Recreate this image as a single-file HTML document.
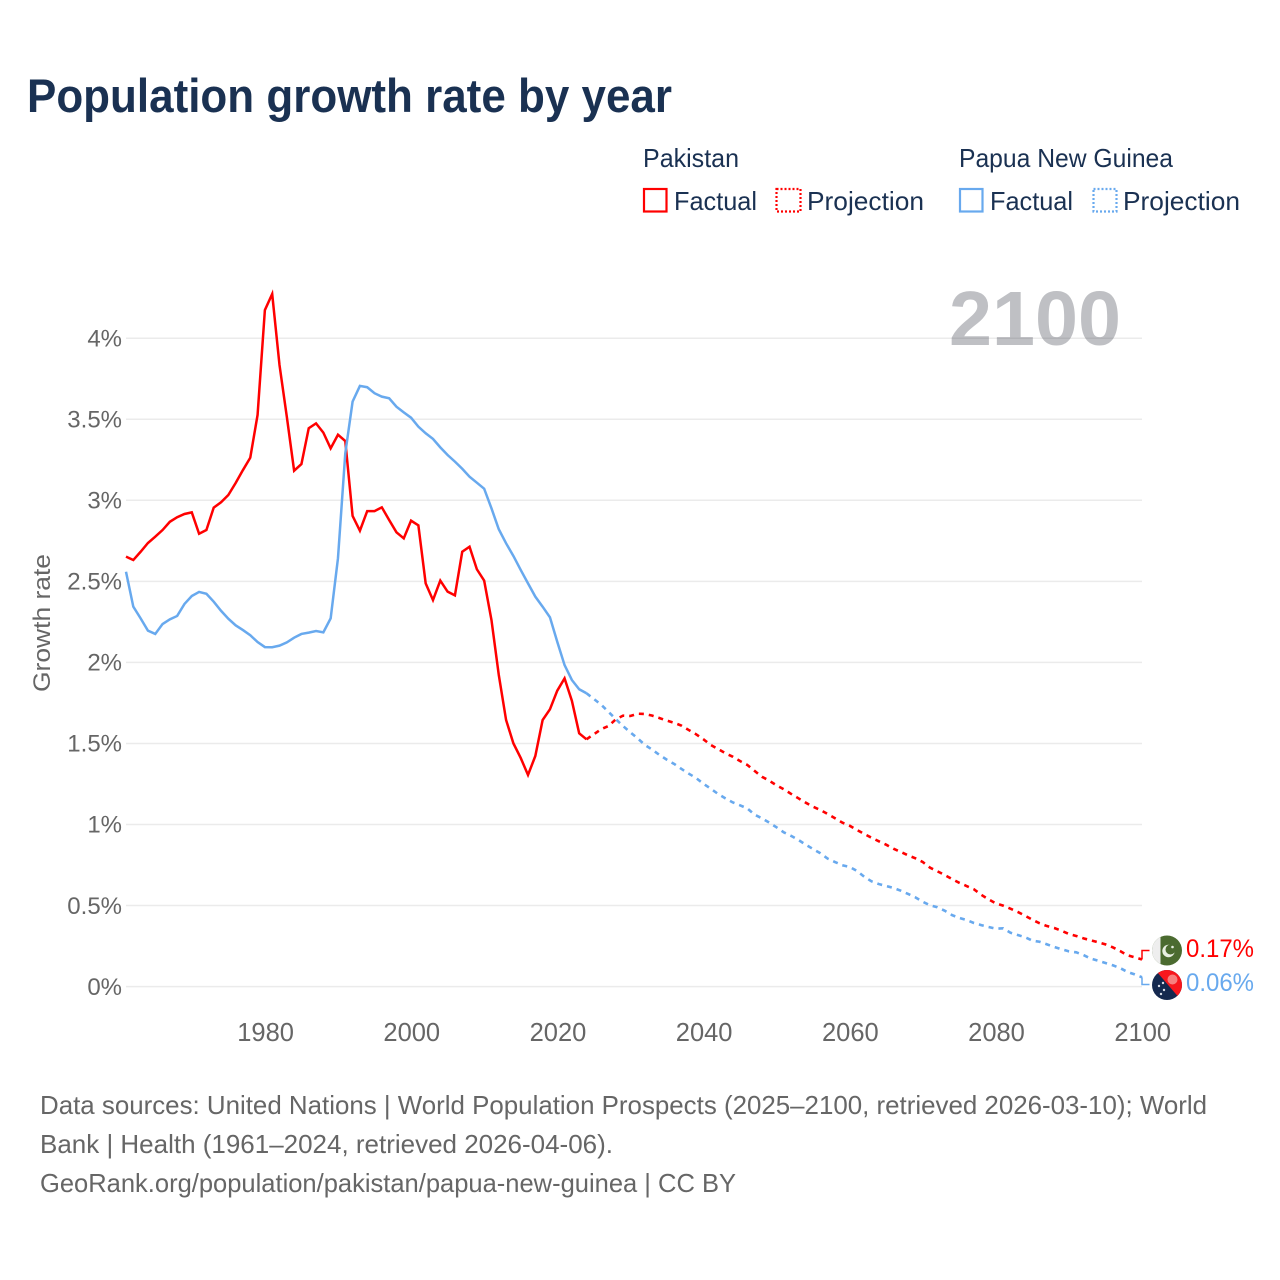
<!DOCTYPE html>
<html lang="en">
<head>
<meta charset="utf-8">
<title>Population growth rate by year</title>
<style>
  html, body { margin: 0; padding: 0; background: #fff; }
  svg { display: block; font-family: "Liberation Sans", sans-serif; }
  text { white-space: pre; }
</style>
</head>
<body>
<svg id="chart" width="1280" height="1280" viewBox="0 0 1280 1280" xmlns="http://www.w3.org/2000/svg">
  <defs>
    <clipPath id="flag-clip-pk"><circle cx="1167" cy="950.5" r="15"/></clipPath>
    <clipPath id="flag-clip-pg"><circle cx="1167" cy="985" r="15"/></clipPath>
  </defs>
  <rect x="0" y="0" width="1280" height="1280" fill="#fff"/>

  <text x="27" y="112" font-size="47" font-weight="700" fill="#1a3152" textLength="645" lengthAdjust="spacingAndGlyphs">Population growth rate by year</text>

  <g fill="#1a3152" font-size="26">
    <text x="643" y="167" textLength="96" lengthAdjust="spacingAndGlyphs">Pakistan</text>
    <text x="959" y="167" textLength="214" lengthAdjust="spacingAndGlyphs">Papua New Guinea</text>
    <rect x="644" y="189" width="22.5" height="22.5" fill="none" stroke="#ff0000" stroke-width="2.2"/>
    <text x="674" y="210" textLength="83" lengthAdjust="spacingAndGlyphs">Factual</text>
    <rect x="776.5" y="189" width="24" height="22.5" fill="none" stroke="#ff0000" stroke-width="2.2" stroke-dasharray="2 2"/>
    <text x="807" y="210" textLength="117" lengthAdjust="spacingAndGlyphs">Projection</text>
    <rect x="960" y="189" width="22.5" height="22.5" fill="none" stroke="#68a9ee" stroke-width="2.2"/>
    <text x="990" y="210" textLength="83" lengthAdjust="spacingAndGlyphs">Factual</text>
    <rect x="1093.5" y="189" width="23" height="22.5" fill="none" stroke="#68a9ee" stroke-width="2.2" stroke-dasharray="2 2"/>
    <text x="1123" y="210" textLength="117" lengthAdjust="spacingAndGlyphs">Projection</text>
  </g>

  <g id="grid-layer"></g>
  <g id="y-tick-layer"></g>
  <g id="x-tick-layer"></g>

  <text transform="translate(50 692) rotate(-90)" x="0" y="0" font-size="24" fill="#666" textLength="138" lengthAdjust="spacingAndGlyphs">Growth rate</text>

  <g id="series-layer"></g>

  <text x="949" y="345" font-size="77" font-weight="700" fill="#3c414b" fill-opacity="0.33" textLength="172" lengthAdjust="spacingAndGlyphs">2100</text>

  <g clip-path="url(#flag-clip-pk)">
    <rect x="1150" y="933" width="34" height="35" fill="#4b6b30"/>
    <rect x="1150" y="933" width="10.5" height="35" fill="#eeeeee"/>
    <circle cx="1168.5" cy="951" r="6.2" fill="#e8efe2"/>
    <circle cx="1170.5" cy="949.5" r="5" fill="#4b6b30"/>
    <circle cx="1172.5" cy="947" r="1.3" fill="#e8efe2"/>
  </g>
  <g clip-path="url(#flag-clip-pg)">
    <rect x="1150" y="968" width="34" height="35" fill="#15294f"/>
    <polygon points="1154,968.5 1184,968.5 1184,1003.5" fill="#f8171d"/>
    <ellipse cx="1172.5" cy="979.5" rx="5" ry="5" fill="#f7807e"/>
    <circle cx="1159" cy="986" r="1.2" fill="#d8dde8"/>
    <circle cx="1163" cy="983" r="1.2" fill="#d8dde8"/>
    <circle cx="1164" cy="990" r="1.2" fill="#d8dde8"/>
    <circle cx="1161" cy="994" r="1.2" fill="#d8dde8"/>
  </g>

  <g font-size="25">
    <text id="end-label-pk" x="1186" y="957" fill="#ff0000" textLength="68" lengthAdjust="spacingAndGlyphs"></text>
    <text id="end-label-pg" x="1186" y="991" fill="#68a9ee" textLength="68" lengthAdjust="spacingAndGlyphs"></text>
  </g>

  <g fill="#666" font-size="26">
    <text x="40" y="1114" textLength="1167" lengthAdjust="spacingAndGlyphs">Data sources: United Nations | World Population Prospects (2025–2100, retrieved 2026-03-10); World</text>
    <text x="40" y="1153" textLength="573" lengthAdjust="spacingAndGlyphs">Bank | Health (1961–2024, retrieved 2026-04-06).</text>
    <text x="40" y="1192" textLength="696" lengthAdjust="spacingAndGlyphs">GeoRank.org/population/pakistan/papua-new-guinea | CC BY</text>
  </g>
</svg>

<script>
// ---- chart data ----
const factualStartYear = 1961;
const projectionStartYear = 2025;
const xTickYears = [1980, 2000, 2020, 2040, 2060, 2080, 2100];
const yTickValues = [0, 0.5, 1, 1.5, 2, 2.5, 3, 3.5, 4];

const pakistanFactual = [
  2.655, 2.634, 2.685, 2.739, 2.778, 2.819, 2.870, 2.898, 2.918, 2.928,
  2.796, 2.819, 2.957, 2.990, 3.035, 3.109, 3.189, 3.265, 3.529, 4.176,
  4.275, 3.837, 3.518, 3.185, 3.226, 3.447, 3.477, 3.420, 3.323, 3.407,
  3.368, 2.906, 2.815, 2.936, 2.936, 2.959, 2.881, 2.805, 2.768, 2.877,
  2.848, 2.490, 2.387, 2.507, 2.439, 2.416, 2.685, 2.716, 2.577, 2.507,
  2.264, 1.925, 1.647, 1.503, 1.413, 1.308, 1.425, 1.647, 1.713, 1.828,
  1.904, 1.766, 1.565, 1.528
];
const pakistanProjection = [
  1.559, 1.590, 1.610, 1.651, 1.674, 1.672, 1.686, 1.684, 1.674, 1.659,
  1.643, 1.630, 1.612, 1.585, 1.559, 1.528, 1.493, 1.468, 1.442, 1.421,
  1.394, 1.370, 1.333, 1.297, 1.273, 1.244, 1.220, 1.191, 1.164, 1.137,
  1.112, 1.092, 1.067, 1.041, 1.014, 0.995, 0.969, 0.944, 0.921, 0.899,
  0.878, 0.853, 0.833, 0.812, 0.794, 0.771, 0.736, 0.714, 0.691, 0.666,
  0.643, 0.623, 0.603, 0.569, 0.541, 0.516, 0.502, 0.483, 0.463, 0.440,
  0.415, 0.393, 0.376, 0.364, 0.347, 0.327, 0.315, 0.300, 0.288, 0.276,
  0.263, 0.245, 0.222, 0.196, 0.183, 0.170
];
const pngFactual = [
  2.562, 2.346, 2.274, 2.198, 2.178, 2.239, 2.268, 2.289, 2.363, 2.412,
  2.437, 2.426, 2.377, 2.321, 2.272, 2.231, 2.202, 2.170, 2.128, 2.097,
  2.096, 2.106, 2.126, 2.155, 2.178, 2.186, 2.196, 2.188, 2.274, 2.645,
  3.292, 3.611, 3.708, 3.700, 3.663, 3.642, 3.632, 3.580, 3.545, 3.512,
  3.457, 3.416, 3.381, 3.329, 3.282, 3.241, 3.197, 3.148, 3.111, 3.074,
  2.953, 2.824, 2.737, 2.659, 2.573, 2.490, 2.408, 2.346, 2.281, 2.130,
  1.986, 1.894, 1.837, 1.812
];
const pngProjection = [
  1.777, 1.742, 1.698, 1.653, 1.610, 1.571, 1.534, 1.493, 1.464, 1.431,
  1.402, 1.376, 1.345, 1.316, 1.289, 1.254, 1.223, 1.191, 1.164, 1.139,
  1.121, 1.102, 1.063, 1.041, 1.014, 0.985, 0.954, 0.932, 0.907, 0.878,
  0.851, 0.825, 0.792, 0.771, 0.751, 0.741, 0.716, 0.680, 0.652, 0.635,
  0.623, 0.611, 0.594, 0.574, 0.553, 0.526, 0.504, 0.492, 0.471, 0.444,
  0.426, 0.413, 0.395, 0.382, 0.370, 0.360, 0.362, 0.335, 0.321, 0.307,
  0.286, 0.279, 0.263, 0.247, 0.233, 0.220, 0.214, 0.197, 0.175, 0.162,
  0.148, 0.134, 0.117, 0.093, 0.078, 0.060
];

// ---- axis functions ----
function xScale(year) {
  return 126 + (year - 1961) * (1142 - 126) / (2100 - 1961);
}
function yScale(value) {
  return 987 - value * 162.1;
}

const SVG_NS = 'http://www.w3.org/2000/svg';
function make(tag, parentId) {
  const el = document.createElementNS(SVG_NS, tag);
  document.getElementById(parentId).appendChild(el);
  return el;
}
function pointsFor(values, startYear) {
  return values.map(function (v, i) {
    return xScale(startYear + i).toFixed(2) + ',' + yScale(v).toFixed(2);
  });
}

// gridlines and y ticks
yTickValues.forEach(function (v) {
  const line = make('line', 'grid-layer');
  
  
  line.setAttribute('x1', xScale(1961));
  line.setAttribute('x2', xScale(2100));
  line.setAttribute('y1', yScale(v) - 0.4);
  line.setAttribute('y2', yScale(v) - 0.4);
  line.setAttribute('stroke', '#ebebeb');
  line.setAttribute('stroke-width', '1.5');

  const label = make('text', 'y-tick-layer');
  
  
  label.setAttribute('x', 122);
  label.setAttribute('y', yScale(v) + 7.8);
  label.setAttribute('text-anchor', 'end');
  label.setAttribute('font-size', '24');
  label.setAttribute('fill', '#666');
  label.textContent = v + '%';
});

// x ticks
xTickYears.forEach(function (year) {
  const label = make('text', 'x-tick-layer');
  
  
  label.setAttribute('x', xScale(year) + 0.7);
  label.setAttribute('y', 1041);
  label.setAttribute('text-anchor', 'middle');
  label.setAttribute('font-size', '25.5');
  label.setAttribute('fill', '#666');
  label.textContent = String(year);
});

// series
const pkFactualLine = make('polyline', 'series-layer');


pkFactualLine.setAttribute('points', pointsFor(pakistanFactual, factualStartYear).join(' '));
pkFactualLine.setAttribute('fill', 'none');
pkFactualLine.setAttribute('stroke', '#ff0000');
pkFactualLine.setAttribute('stroke-width', '2.5');

const pgFactualLine = make('polyline', 'series-layer');


pgFactualLine.setAttribute('points', pointsFor(pngFactual, factualStartYear).join(' '));
pgFactualLine.setAttribute('fill', 'none');
pgFactualLine.setAttribute('stroke', '#68a9ee');
pgFactualLine.setAttribute('stroke-width', '2.5');

const pkProjectionLine = make('polyline', 'series-layer');


pkProjectionLine.setAttribute('points', pointsFor(pakistanFactual.slice(-1).concat(pakistanProjection), projectionStartYear - 1).join(' '));
pkProjectionLine.setAttribute('fill', 'none');
pkProjectionLine.setAttribute('stroke', '#ff0000');
pkProjectionLine.setAttribute('stroke-width', '2.6');
pkProjectionLine.setAttribute('stroke-dasharray', '5 5');

const pgProjectionLine = make('polyline', 'series-layer');


pgProjectionLine.setAttribute('points', pointsFor(pngFactual.slice(-1).concat(pngProjection), projectionStartYear - 1).join(' '));
pgProjectionLine.setAttribute('fill', 'none');
pgProjectionLine.setAttribute('stroke', '#68a9ee');
pgProjectionLine.setAttribute('stroke-width', '2.6');
pgProjectionLine.setAttribute('stroke-dasharray', '5 5');

// end-of-line leader brackets
const pkLastValue = pakistanProjection[pakistanProjection.length - 1];
const pgLastValue = pngProjection[pngProjection.length - 1];

const pkLeader = make('polyline', 'series-layer');


pkLeader.setAttribute('points', xScale(2100) + ',' + yScale(pkLastValue) + ' ' + xScale(2100) + ',950.5 1149.5,950.5');
pkLeader.setAttribute('fill', 'none');
pkLeader.setAttribute('stroke', '#ff0000');
pkLeader.setAttribute('stroke-width', '1.5');

const pgLeader = make('polyline', 'series-layer');


pgLeader.setAttribute('points', xScale(2100) + ',' + yScale(pgLastValue) + ' ' + xScale(2100) + ',984.5 1149.5,984.5');
pgLeader.setAttribute('fill', 'none');
pgLeader.setAttribute('stroke', '#68a9ee');
pgLeader.setAttribute('stroke-width', '1.5');

document.getElementById('end-label-pk').textContent = pkLastValue.toFixed(2) + '%';
document.getElementById('end-label-pg').textContent = pgLastValue.toFixed(2) + '%';
</script>
</body>
</html>
